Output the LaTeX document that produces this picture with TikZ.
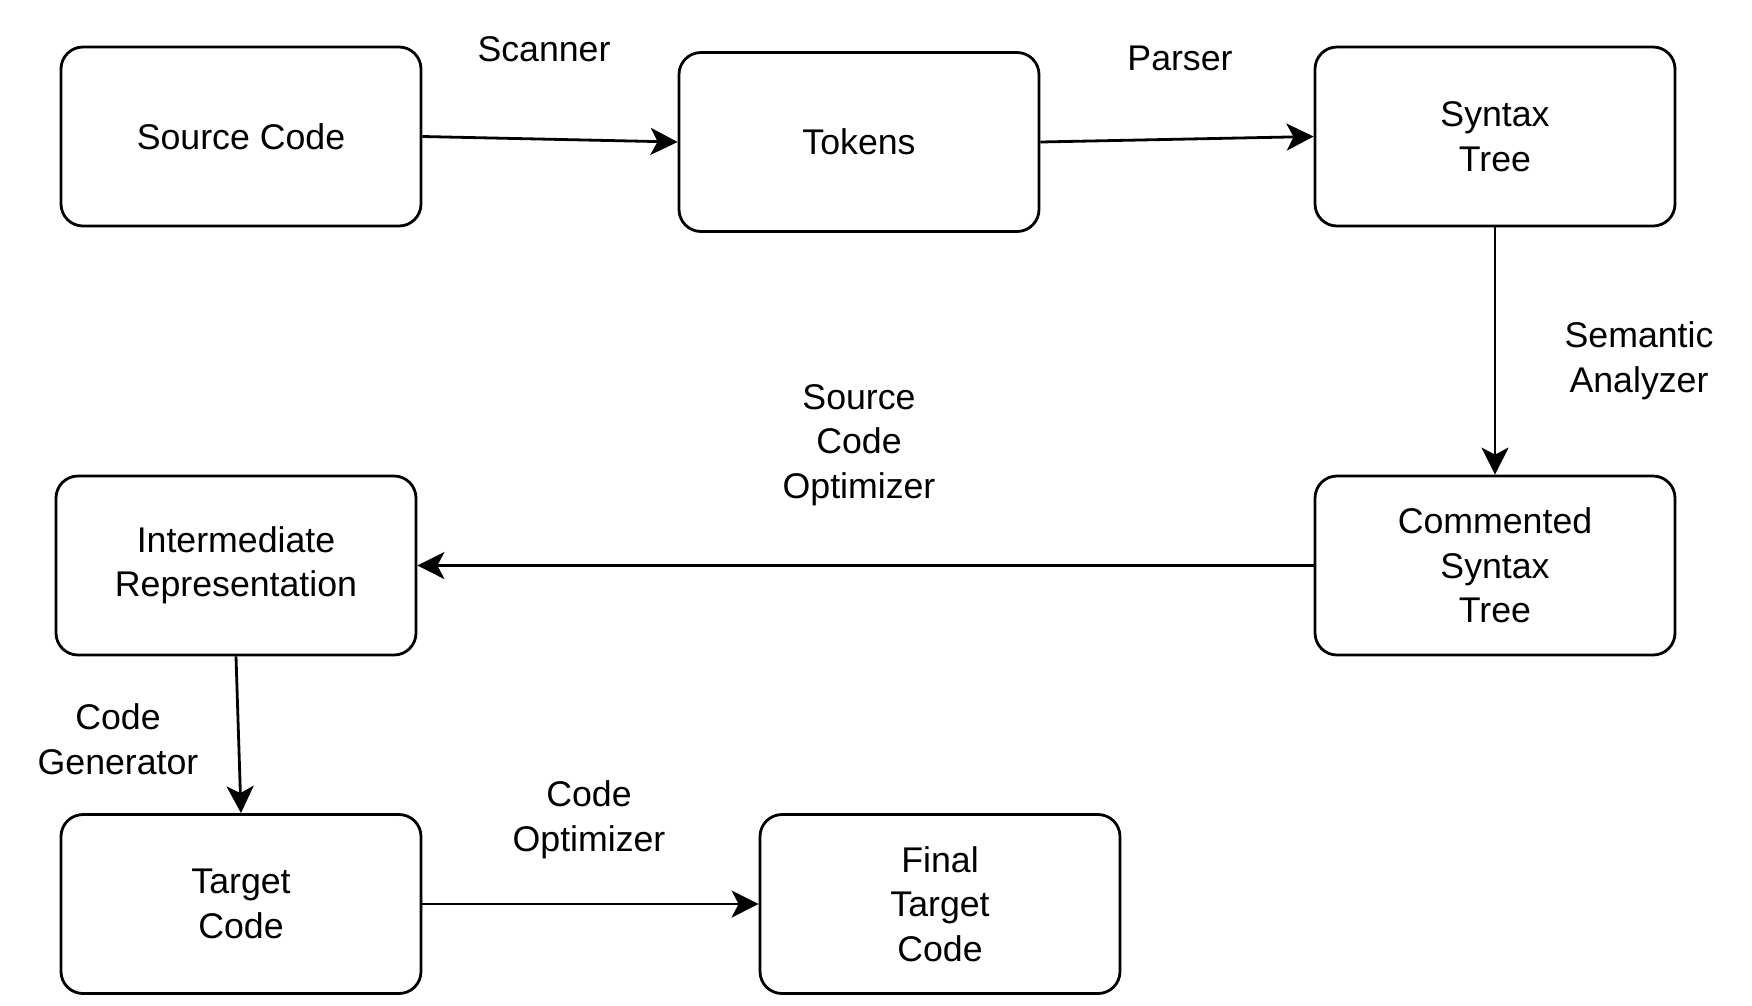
\documentclass[tikz,border=0pt]{standalone}
\usepackage{fontspec}
\setmainfont{Liberation Sans}
\usetikzlibrary{arrows.meta}
\begin{document}
\begin{tikzpicture}[x=1pt,y=-1pt,
  box/.style={draw=black, line width=2.8pt, rounded corners=22pt, minimum width=360pt, minimum height=179pt, align=center, inner sep=0pt, font=\fontsize{35.7}{44.5}\selectfont},
  lbl/.style={align=center, inner sep=0pt, font=\fontsize{35.7}{44.5}\selectfont},
  edge/.style={draw=black, line width=2.8pt, -{Stealth[length=27pt, width=27pt, inset=7pt]}}]
\useasboundingbox (0,0) rectangle (1752,1005);
\node[box] (src) at (241,136.5) {Source Code};
\node[box] (tok) at (859,142) {Tokens};
\node[box] (syn) at (1495,136.5) {Syntax\\Tree};
\node[box] (com) at (1495,565.5) {Commented\\Syntax\\Tree};
\node[box] (ir) at (236,565.5) {Intermediate\\Representation};
\node[box] (tgt) at (241,904) {Target\\Code};
\node[box] (fin) at (940,904) {Final\\Target\\Code};
\node[lbl] (l1) at (544,49) {Scanner};
\node[lbl] (l2) at (1180,58) {Parser};
\node[lbl] (l3) at (1639,361) {Semantic\\Analyzer};
\node[lbl] (l4) at (859,445) {Source\\Code\\Optimizer};
\node[lbl] (l5) at (118,739) {Code\\Generator};
\node[lbl] (l6) at (589,820) {Code\\Optimizer};
\draw[edge] (src.east) -- (tok.west);
\draw[edge] (tok.east) -- (syn.west);
\draw[edge] (syn.south) -- (com.north);
\draw[edge] (com.west) -- (ir.east);
\draw[edge] (ir.south) -- (tgt.north);
\draw[edge] (tgt.east) -- (fin.west);
\end{tikzpicture}
\end{document}
